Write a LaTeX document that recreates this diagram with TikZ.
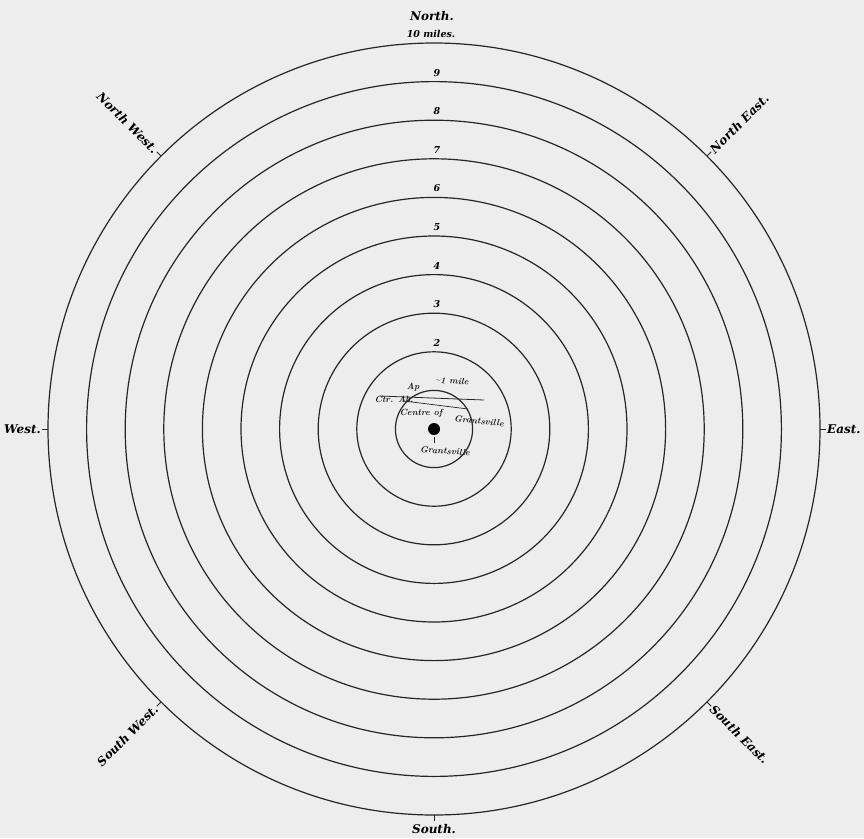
\documentclass[tikz,border=0pt]{standalone}
\usepackage{fontspec}
\usetikzlibrary{calc}
\newfontfamily\labfont{DejaVu Serif}
\begin{document}
\begin{tikzpicture}[x=1pt,y=-1pt,
  ring/.style={draw=black!85, line width=1.2pt},
  lab/.style={font=\labfont\bfseries\itshape\fontsize{12}{13}\selectfont, inner sep=1pt, text=black},
  num/.style={font=\labfont\bfseries\itshape\fontsize{9.5}{10}\selectfont, inner sep=0pt, text=black},
  hand/.style={font=\bfseries\itshape\fontsize{9}{10}\selectfont, inner sep=0pt, text=black!90},
  tick/.style={draw=black!85, line width=0.9pt}]
\fill[black!7] (0,0) rectangle (864,838);
\useasboundingbox (0,0) rectangle (864,838);
\coordinate (C) at (434,429);
% rings
\foreach \k in {1,...,10} {
  \draw[ring] (C) circle[radius={38.6*\k}];
}
\fill[black] (C) circle[radius=6];
% ring numbers
\foreach \k in {2,...,9} {
  \node[num] (n\k) at ({437},{429-38.6*\k-9}) {\k};
}
\node[num] (n10) at (431,34) {10 miles.};
\node[lab] (north) at (432,16) {North.};
\node[lab] (south) at (434,829) {South.};
% compass ticks
\foreach \a/\nm in {0/E,45/NE,135/NW,180/W,225/SW,270/S,315/SE} {
  \coordinate (t\nm) at ($(C)+({386*cos(\a)},{-386*sin(\a)})$);
  \coordinate (u\nm) at ($(C)+({392*cos(\a)},{-392*sin(\a)})$);
  \draw[tick] (t\nm) -- (u\nm);
}
\node[lab, anchor=east] (west) at (uW) {West.};
\node[lab, anchor=west] (east) at (uE) {East.};
\node[lab, anchor=east, rotate=-45] (nw) at (uNW) {North West.};
\node[lab, anchor=west, rotate=45] (ne) at (uNE) {North East.};
\node[lab, anchor=east, rotate=45] (sw) at (uSW) {South West.};
\node[lab, anchor=west, rotate=-45] (se) at (uSE) {South East.};
% handwritten notes
\node[hand, rotate=-4] (mile) at (452,381) {\textasciitilde1 mile};
\draw[black!85, line width=0.8pt] (380,396) -- (484,400);
\draw[black!85, line width=0.7pt] (404,401) -- (468,409);
\node[hand] (ap) at (413,387) {Ap};
\node[hand] (ctr) at (394,399) {Ctr. Ab.};
\node[hand] (centre) at (421,413) {Centre of};
\node[hand, rotate=-6] (g1) at (479,421) {Grantsville};
\node[hand, rotate=-4] (g2) at (445,451) {Grantsville};
\draw[black!85, line width=0.6pt] (434,437) -- (434,443);
\end{tikzpicture}
\end{document}
